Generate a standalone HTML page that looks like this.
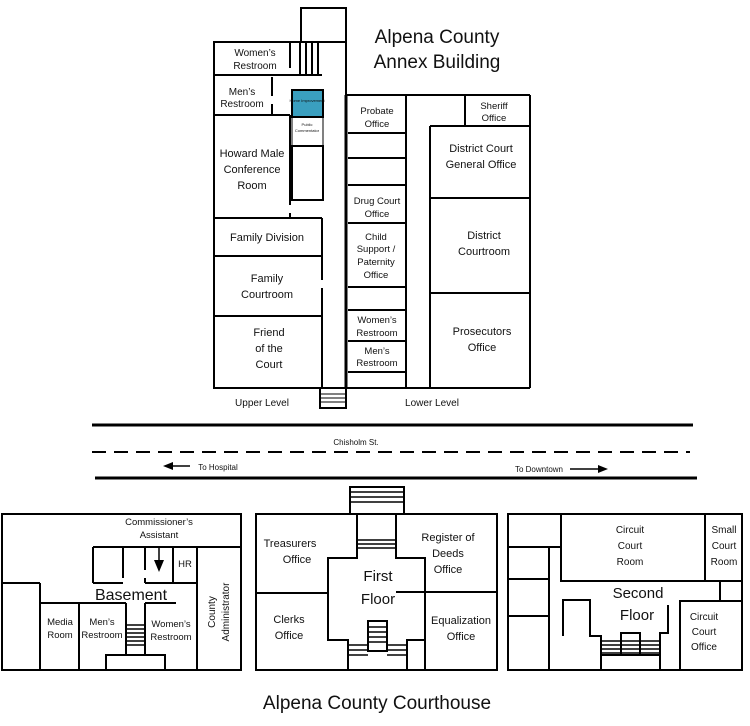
<!DOCTYPE html>
<html><head><meta charset="utf-8"><style>
html,body{margin:0;padding:0;background:#fff;}
svg{display:block;}
text{font-family:"Liberation Sans",sans-serif;fill:#111;}
</style></head><body>
<svg width="750" height="726" viewBox="0 0 750 726" xmlns="http://www.w3.org/2000/svg">
<g fill="none" stroke="#000" stroke-width="2">
<!-- ANNEX UPPER -->
<polyline points="301,42 301,8 346,8 346,388"/>
<rect x="214" y="42" width="132" height="346"/>
<line x1="214" y1="75" x2="322" y2="75"/>
<line x1="290" y1="42" x2="290" y2="68"/>
<line x1="300" y1="42" x2="300" y2="75"/><line x1="306" y1="42" x2="306" y2="75"/><line x1="312" y1="42" x2="312" y2="75"/><line x1="318" y1="42" x2="318" y2="75"/>
<line x1="272" y1="77" x2="272" y2="96"/><line x1="272" y1="104" x2="272" y2="115"/>
<line x1="214" y1="115" x2="290" y2="115"/>
<line x1="290" y1="115" x2="290" y2="205"/><line x1="290" y1="213" x2="290" y2="218"/>
<rect x="292" y="90" width="31" height="27" fill="#3a9fbf"/>
<rect x="292" y="117" width="31" height="29" stroke-width="1"/>
<rect x="292" y="146" width="31" height="54"/>
<line x1="214" y1="218" x2="322" y2="218"/>
<line x1="214" y1="256" x2="322" y2="256"/>
<line x1="214" y1="316" x2="322" y2="316"/>
<line x1="322" y1="218" x2="322" y2="280"/><line x1="322" y1="288" x2="322" y2="388"/>
<rect x="320" y="388" width="26" height="20"/>
<line x1="321" y1="394" x2="345" y2="394" stroke-width="1"/><line x1="321" y1="398" x2="345" y2="398" stroke-width="1"/><line x1="321" y1="402" x2="345" y2="402" stroke-width="1"/>
<!-- ANNEX LOWER -->
<line x1="346" y1="95" x2="346" y2="388" stroke-width="3"/>
<polyline points="346,95 530,95"/>
<line x1="346" y1="388" x2="530" y2="388"/>
<line x1="530" y1="95" x2="530" y2="388"/>
<line x1="406" y1="95" x2="406" y2="388"/>
<line x1="348" y1="133" x2="406" y2="133"/><line x1="348" y1="158" x2="406" y2="158"/><line x1="348" y1="185" x2="406" y2="185"/><line x1="348" y1="223" x2="406" y2="223"/><line x1="348" y1="287" x2="406" y2="287"/><line x1="348" y1="310" x2="406" y2="310"/><line x1="348" y1="341" x2="406" y2="341"/><line x1="348" y1="372" x2="406" y2="372"/>
<line x1="430" y1="126" x2="530" y2="126"/><line x1="465" y1="95" x2="465" y2="126"/>
<line x1="430" y1="126" x2="430" y2="388"/>
<line x1="430" y1="198" x2="530" y2="198"/><line x1="430" y1="293" x2="530" y2="293"/>
<!-- ROAD -->
<line x1="92" y1="425" x2="693" y2="425" stroke-width="3"/>
<line x1="92" y1="452" x2="690" y2="452" stroke-width="2" stroke-dasharray="14,8"/>
<line x1="95" y1="478" x2="697" y2="478" stroke-width="3"/>
<line x1="172" y1="466" x2="190" y2="466" stroke-width="1.5"/>
<line x1="570" y1="469" x2="598" y2="469" stroke-width="1.5"/>
<!-- BASEMENT -->
<rect x="2" y="514" width="239" height="156"/>
<line x1="93" y1="547" x2="241" y2="547"/>
<line x1="93" y1="547" x2="93" y2="583"/>
<line x1="123" y1="547" x2="123" y2="578"/>
<line x1="145" y1="547" x2="145" y2="570"/>
<line x1="145" y1="578" x2="145" y2="583"/>
<line x1="173" y1="547" x2="173" y2="583"/>
<line x1="197" y1="547" x2="197" y2="670"/>
<line x1="2" y1="583" x2="40" y2="583"/>
<line x1="145" y1="583" x2="197" y2="583"/>
<line x1="93" y1="583" x2="123" y2="583"/>
<line x1="40" y1="603" x2="126" y2="603"/><line x1="145" y1="603" x2="176" y2="603"/>
<line x1="40" y1="583" x2="40" y2="670"/>
<line x1="79" y1="603" x2="79" y2="670"/>
<line x1="126" y1="603" x2="126" y2="655"/>
<line x1="145" y1="603" x2="145" y2="655"/>
<line x1="126" y1="625" x2="145" y2="625" stroke-width="1.5"/><line x1="126" y1="629" x2="145" y2="629" stroke-width="1.5"/><line x1="126" y1="633" x2="145" y2="633" stroke-width="1.5"/><line x1="126" y1="637" x2="145" y2="637" stroke-width="1.5"/><line x1="126" y1="641" x2="145" y2="641" stroke-width="1.5"/><line x1="126" y1="645" x2="145" y2="645" stroke-width="1.5"/>
<polyline points="106,670 106,655 165,655 165,670"/>
<line x1="159" y1="548" x2="159" y2="560" stroke-width="1.5"/>
<!-- FIRST FLOOR -->
<rect x="256" y="514" width="241" height="156"/>
<rect x="350" y="487" width="54" height="27"/>
<line x1="351" y1="492" x2="403" y2="492" stroke-width="1.5"/><line x1="351" y1="497" x2="403" y2="497" stroke-width="1.5"/><line x1="351" y1="502" x2="403" y2="502" stroke-width="1.5"/>
<polyline points="256,593 328,593"/>
<polyline points="357,514 357,558 328,558 328,640 348,640 348,670"/>
<polyline points="396,514 396,558 425,558 425,640 407,640 407,670"/>
<line x1="396" y1="592" x2="497" y2="592"/>
<line x1="425" y1="592" x2="425" y2="670"/>
<line x1="328" y1="593" x2="328" y2="670" stroke-width="0"/>
<line x1="358" y1="540" x2="395" y2="540" stroke-width="1.5"/><line x1="358" y1="544" x2="395" y2="544" stroke-width="1.5"/><line x1="358" y1="548" x2="395" y2="548" stroke-width="1.5"/>
<rect x="368" y="621" width="19" height="30"/>
<line x1="368" y1="627" x2="387" y2="627" stroke-width="1.5"/><line x1="368" y1="632" x2="387" y2="632" stroke-width="1.5"/><line x1="368" y1="637" x2="387" y2="637" stroke-width="1.5"/><line x1="368" y1="642" x2="387" y2="642" stroke-width="1.5"/>
<line x1="348" y1="645" x2="368" y2="645" stroke-width="1.5"/><line x1="348" y1="650" x2="368" y2="650" stroke-width="1.5"/><line x1="348" y1="655" x2="368" y2="655" stroke-width="1.5"/>
<line x1="387" y1="645" x2="407" y2="645" stroke-width="1.5"/><line x1="387" y1="650" x2="407" y2="650" stroke-width="1.5"/><line x1="387" y1="655" x2="407" y2="655" stroke-width="1.5"/>
<!-- SECOND FLOOR -->
<rect x="508" y="514" width="234" height="156"/>
<line x1="508" y1="547" x2="561" y2="547"/><line x1="508" y1="579" x2="549" y2="579"/><line x1="508" y1="616" x2="549" y2="616"/>
<line x1="549" y1="547" x2="549" y2="670"/>
<rect x="561" y="514" width="144" height="67"/>
<line x1="705" y1="514" x2="705" y2="581"/>
<line x1="705" y1="581" x2="742" y2="581"/>
<line x1="720" y1="581" x2="720" y2="601"/>
<polyline points="742,601 680,601 680,670"/>
<polyline points="563,636 563,600 590,600 590,636 601,636 601,670"/>
<polyline points="660,670 660,633 668,633 668,605"/>
<rect x="621" y="633" width="19" height="22"/>
<line x1="601" y1="641" x2="660" y2="641" stroke-width="1.5"/><line x1="601" y1="645" x2="660" y2="645" stroke-width="1.5"/><line x1="601" y1="649" x2="660" y2="649" stroke-width="1.5"/><line x1="601" y1="653" x2="660" y2="653" stroke-width="1.5"/>
<line x1="601" y1="655" x2="660" y2="655"/>
</g>
<g fill="#000">
<polygon points="163,466 173,462 173,470"/>
<polygon points="608,469 598,465 598,473"/>
<polygon points="154,560 164,560 159,572"/>
</g>
<g font-size="16" text-anchor="middle">
<text x="437" y="43" font-size="19">Alpena County</text>
<text x="437" y="68" font-size="19">Annex Building</text>
<text x="377" y="709" font-size="19">Alpena County Courthouse</text>
</g>
<g font-size="10" text-anchor="middle">
<text x="255" y="56">Women’s</text><text x="255" y="69">Restroom</text>
<text x="242" y="95">Men’s</text><text x="242" y="107">Restroom</text>
<text x="307" y="102" font-size="4">Home Improvement</text>
<text x="307" y="126" font-size="4">Public</text><text x="307" y="132" font-size="4">Commentator</text>
<text x="252" y="157" font-size="11">Howard Male</text><text x="252" y="173" font-size="11">Conference</text><text x="252" y="189" font-size="11">Room</text>
<text x="267" y="241" font-size="11">Family Division</text>
<text x="267" y="282" font-size="11">Family</text><text x="267" y="298" font-size="11">Courtroom</text>
<text x="269" y="336" font-size="11">Friend</text><text x="269" y="352" font-size="11">of the</text><text x="269" y="368" font-size="11">Court</text>
<text x="262" y="406">Upper Level</text>
<text x="432" y="406">Lower Level</text>
<text x="377" y="114" font-size="9.5">Probate</text><text x="377" y="127" font-size="9.5">Office</text>
<text x="494" y="109" font-size="9.5">Sheriff</text><text x="494" y="121" font-size="9.5">Office</text>
<text x="481" y="152" font-size="11">District Court</text><text x="481" y="168" font-size="11">General Office</text>
<text x="377" y="204" font-size="9.5">Drug Court</text><text x="377" y="217" font-size="9.5">Office</text>
<text x="376" y="240" font-size="9.5">Child</text><text x="376" y="252" font-size="9.5">Support /</text><text x="376" y="265" font-size="9.5">Paternity</text><text x="376" y="278" font-size="9.5">Office</text>
<text x="377" y="323" font-size="9.5">Women’s</text><text x="377" y="336" font-size="9.5">Restroom</text>
<text x="377" y="354" font-size="9.5">Men’s</text><text x="377" y="366" font-size="9.5">Restroom</text>
<text x="484" y="239" font-size="11">District</text><text x="484" y="255" font-size="11">Courtroom</text>
<text x="482" y="335" font-size="11">Prosecutors</text><text x="482" y="351" font-size="11">Office</text>
<text x="356" y="445" font-size="8">Chisholm St.</text>
<text x="218" y="470" font-size="8">To Hospital</text>
<text x="539" y="472" font-size="8">To Downtown</text>
<text x="159" y="525" font-size="9.5">Commissioner’s</text><text x="159" y="538" font-size="9.5">Assistant</text>
<text x="185" y="567" font-size="9.5">HR</text>
<text x="131" y="600" font-size="16">Basement</text>
<text x="60" y="625" font-size="9.5">Media</text><text x="60" y="638" font-size="9.5">Room</text>
<text x="102" y="625" font-size="9.5">Men’s</text><text x="102" y="638" font-size="9.5">Restroom</text>
<text x="171" y="627" font-size="9.5">Women’s</text><text x="171" y="640" font-size="9.5">Restroom</text>
<text transform="translate(215,612) rotate(-90)" font-size="10">County</text>
<text transform="translate(229,612) rotate(-90)" font-size="10">Administrator</text>
<text x="290" y="547" font-size="11">Treasurers</text><text x="297" y="563" font-size="11">Office</text>
<text x="448" y="541" font-size="11">Register of</text><text x="448" y="557" font-size="11">Deeds</text><text x="448" y="573" font-size="11">Office</text>
<text x="378" y="581" font-size="15">First</text><text x="378" y="604" font-size="15">Floor</text>
<text x="289" y="623" font-size="11">Clerks</text><text x="289" y="639" font-size="11">Office</text>
<text x="461" y="624" font-size="11">Equalization</text><text x="461" y="640" font-size="11">Office</text>
<text x="630" y="533" font-size="10">Circuit</text><text x="630" y="549" font-size="10">Court</text><text x="630" y="565" font-size="10">Room</text>
<text x="724" y="533" font-size="10">Small</text><text x="724" y="549" font-size="10">Court</text><text x="724" y="565" font-size="10">Room</text>
<text x="638" y="598" font-size="15">Second</text><text x="637" y="620" font-size="15">Floor</text>
<text x="704" y="620" font-size="10">Circuit</text><text x="704" y="635" font-size="10">Court</text><text x="704" y="650" font-size="10">Office</text>
</g>
</svg>
</body></html>
